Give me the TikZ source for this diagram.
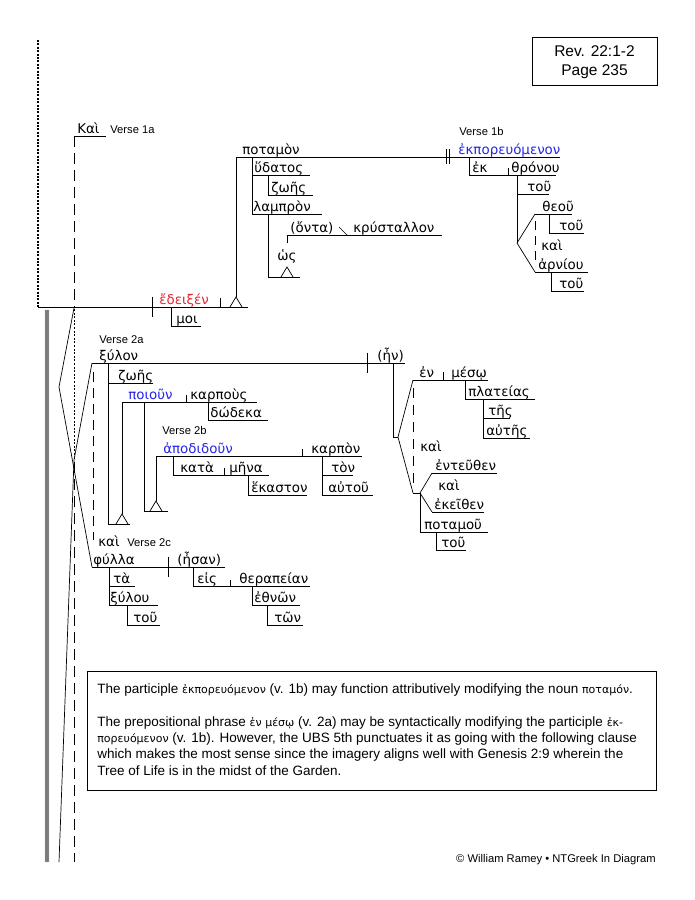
\documentclass[tikz,border=0pt]{standalone}
\usepackage{fontspec}
\setmainfont{Liberation Sans}
\newfontfamily\gkfont{DejaVu Sans}
\usetikzlibrary{decorations.pathmorphing}

\definecolor{gkred}{RGB}{226,38,48}
\definecolor{gkblue}{RGB}{36,36,232}

\def \gksize {\fontsize{13.4}{15}\selectfont}
\def \pedw {6}
\def \pedh {10}
% pedestal: triangle on a line, apex up
\def \ped#1#2{\draw (#1-\pedw,#2) -- (#1,#2-\pedh) -- (#1+\pedw,#2);}
\def \gks#1{{\gkfont\fontsize{11}{16.3}\selectfont #1}}

\begin{document}
\begin{tikzpicture}[x=1pt, y=-1pt, line width=0.7pt,
  gk/.style={font=\gkfont\gksize, anchor=base west, inner sep=0pt},
  verb/.style={gk, text=gkred},
  ptc/.style={gk, text=gkblue},
  vref/.style={font=\fontsize{11.2}{13}\selectfont, anchor=base west, inner sep=0pt},
  conj/.style={dash pattern=on 11pt off 6pt},
  chain/.style={line width=0.35pt, decorate, decoration={zigzag, amplitude=2pt, segment length=4pt}}]
\useasboundingbox (0,0) rectangle (695,900);

% page markers at the left
\draw[line width=2.6pt, dash pattern=on 2pt off 1.4pt] (38,40) -- (38,307);
\draw[chain] (47,310) -- (47,862);
\draw[chain, decoration={mirror}] (47,310) -- (47,862);

% Verse 1a
\node[gk] (kai1) at (77,133) {Καὶ};
\node[vref] (v1a) at (110,133) {Verse 1a};
\draw (74,136) -- (106,136);
\draw[conj] (74,136) -- (74,307);
\draw (38,307) -- (248,307);
\draw (152,297) -- (152,317);
\node[verb] (edeixen) at (159,304) {ἔδειξέν};
\draw (220,298) -- (220,307);
\draw (171,307) -- (171,326) -- (201,326);
\node[gk] (moi) at (176,323) {μοι};
\ped{236}{307}
\draw (236,297) -- (236,157);

% object on pedestal
\draw (236,157) -- (560,157);
\draw (446,149) -- (446,164);
\draw (449.5,149) -- (449.5,164);
\node[gk] (potamon) at (242,154) {ποταμὸν};
\draw (252,157) -- (252,214) -- (322,214);
\draw (252,175) -- (310,175);
\node[gk] (hydatos) at (254,172) {ὕδατος};
\draw (268,175) -- (268,195) -- (313,195);
\node[gk] (zoes1) at (271,192) {ζωῆς};
\node[gk] (lampron) at (253,211) {λαμπρὸν};
\draw (268,214) -- (268,277) -- (300,277);
\ped{287}{277}
\node[gk, anchor=base] (hos) at (287,260) {ὡς};
\draw (287,235) -- (287,243);
\draw (287,235) -- (442,235);
\node[gk] (onta) at (290,232) {(ὄντα)};
\draw (339,227) -- (347,235);
\node[gk] (krystallon) at (353,232) {κρύσταλλον};

% Verse 1b
\node[vref] (v1b) at (459,135) {Verse 1b};
\node[ptc] (ekporeuomenon) at (458,154) {ἐκπορευόμενον};
\draw (469,157) -- (469,175) -- (556,175);
\draw (508,168) -- (508,175);
\node[gk] (ek) at (472,172) {ἐκ};
\node[gk] (thronou) at (511,172) {θρόνου};
\draw (517,175) -- (517,243);
\draw (517,194) -- (549,194);
\node[gk] (tou1) at (527,191) {τοῦ};
\draw (535,214) -- (517,243) -- (535,272);
\draw (535,214) -- (572,214);
\node[gk] (theou) at (542,211) {θεοῦ};
\draw (549,214) -- (549,233) -- (584,233);
\node[gk] (tou2) at (559,230) {τοῦ};
\draw[dash pattern=on 9pt off 6pt] (535,221) -- (535,266);
\node[gk] (kai2) at (541,250) {καὶ};
\draw (535,272) -- (588,272);
\node[gk] (arniou) at (538,269) {ἀρνίου};
\draw (551,272) -- (551,291) -- (584,291);
\node[gk] (tou3) at (559,288) {τοῦ};

% clause links at the left
\draw (74,308) -- (59,387) -- (92,567);
\draw (92,363) -- (74,460) -- (59,862);
\draw[dash pattern=on 2pt off 1.6pt, line width=0.5pt] (74,309) -- (74,460);
\draw[conj] (74,462) -- (74,862);
\draw[dash pattern=on 10pt off 6pt] (93,372) -- (93,540);

% Verse 2a
\node[vref] (v2a) at (99,343) {Verse 2a};
\node[gk] (xylon) at (99,360) {ξύλον};
\draw (92,363) -- (405,363);
\draw (367,353) -- (367,373);
\node[gk] (en) at (377,360) {(ἦν)};
\draw (108,363) -- (108,524) -- (130,524);
\ped{122}{524}
\draw (122,514) -- (122,402);
\draw (108,383) -- (153,383);
\node[gk] (zoes2) at (118,380) {ζωῆς};
\draw (122,402) -- (257,402);
\draw (186,395) -- (186,402);
\node[ptc] (poioun) at (128,399) {ποιοῦν};
\node[gk] (karpous) at (190,399) {καρποὺς};
\draw (208,402) -- (208,420) -- (268,420);
\node[gk] (dodeka) at (210,417) {δώδεκα};
\draw (144,402) -- (144,511) -- (168,511);
\ped{156}{511}
\draw (156,501) -- (156,456);

% Verse 2b
\node[vref] (v2b) at (162,434) {Verse 2b};
\draw (156,456) -- (362,456);
\draw (302,449) -- (302,456);
\node[ptc] (apodidoun) at (163,453) {ἀποδιδοῦν};
\node[gk] (karpon) at (311,453) {καρπὸν};
\draw (173,456) -- (173,475) -- (269,475);
\draw (224,468) -- (224,475);
\node[gk] (kata) at (180,472) {κατὰ};
\node[gk] (mena) at (229,472) {μῆνα};
\draw (248,475) -- (248,495) -- (307,495);
\node[gk] (hekaston) at (251,492) {ἕκαστον};
\draw (322,456) -- (322,495) -- (373,495);
\draw (322,475) -- (353,475);
\node[gk] (ton) at (331,472) {τὸν};
\node[gk] (autou) at (328,492) {αὐτοῦ};

% (ἦν) modifiers
\draw (393,363) -- (393,437) -- (398,437);
\draw (413,380) -- (398,437) -- (413,493);
\draw (413,380) -- (488,380);
\draw (443,372) -- (443,380);
\node[gk] (enp) at (419,377) {ἐν};
\node[gk] (meso) at (451,377) {μέσῳ};
\draw (465,380) -- (465,399) -- (535,399);
\node[gk] (plateias) at (468,396) {πλατείας};
\draw (483,399) -- (483,438) -- (530,438);
\draw (483,418) -- (510,418);
\node[gk] (tes) at (488,415) {τῆς};
\node[gk] (autes) at (486,435) {αὐτῆς};
\draw[dash pattern=on 10pt off 7pt] (413,388) -- (413,488);
\node[gk] (kai3) at (420,451) {καὶ};
\draw (413,493) -- (420,493);
\draw (432,473) -- (420,493) -- (432,512);
\draw (432,473) -- (497,473);
\node[gk] (enteuthen) at (435,470) {ἐντεῦθεν};
\node[gk] (kai4) at (438,490) {καὶ};
\draw (432,512) -- (484,512);
\node[gk] (ekeithen) at (434,509) {ἐκεῖθεν};
\draw (420,493) -- (420,532) -- (488,532);
\node[gk] (potamou) at (424,529) {ποταμοῦ};
\draw (436,532) -- (436,550) -- (466,550);
\node[gk] (tou4) at (441,547) {τοῦ};

% Verse 2c
\node[gk] (kai5) at (98,546) {καὶ};
\node[vref] (v2c) at (127,546) {Verse 2c};
\draw (92,567) -- (225,567);
\draw (168,557) -- (168,577);
\node[gk] (phylla) at (93,564) {φύλλα};
\node[gk] (esan) at (177,564) {(ἦσαν)};
\draw (109,567) -- (109,605) -- (158,605);
\draw (109,586) -- (135,586);
\node[gk] (ta) at (113,583) {τὰ};
\node[gk] (xylou) at (110,602) {ξύλου};
\draw (127,605) -- (127,625) -- (160,625);
\node[gk] (tou5) at (133,622) {τοῦ};
\draw (193,567) -- (193,586) -- (310,586);
\draw (230,580) -- (230,586);
\node[gk] (eis) at (197,583) {εἰς};
\node[gk] (therapeian) at (239,583) {θεραπείαν};
\draw (252,586) -- (252,605) -- (300,605);
\node[gk] (ethnon) at (254,602) {ἐθνῶν};
\draw (267,605) -- (267,625) -- (303,625);
\node[gk] (ton2) at (274,622) {τῶν};

% reference box, note, footer
\draw (532,37) rectangle (657,85);
\node[font=\fontsize{15.5}{19}\selectfont, align=center, anchor=north, inner sep=0pt] (ref) at (594.5,45) {Rev. 22:1-2\\Page 235};
\draw (87,671) rectangle (656,790);
\node[font=\fontsize{13.5}{16.3}\selectfont, align=left, anchor=base west, inner sep=0pt] (note) at (97,775)
  {The participle \gks{ἐκπορευόμενον} (v. 1b) may function attributively modifying the noun \gks{ποταμόν}.\\[16.3pt]
   The prepositional phrase \gks{ἐν μέσῳ} (v. 2a) may be syntactically modifying the participle \gks{ἐκ-}\\
   \gks{πορευόμενον} (v. 1b). However, the UBS 5th punctuates it as going with the following clause\\
   which makes the most sense since the imagery aligns well with Genesis 2:9 wherein the\\
   Tree of Life is in the midst of the Garden.};
\node[font=\fontsize{11.2}{13}\selectfont, anchor=base east, inner sep=0pt] (foot) at (656,862) {© William Ramey • NTGreek In Diagram};
\end{tikzpicture}
\end{document}
